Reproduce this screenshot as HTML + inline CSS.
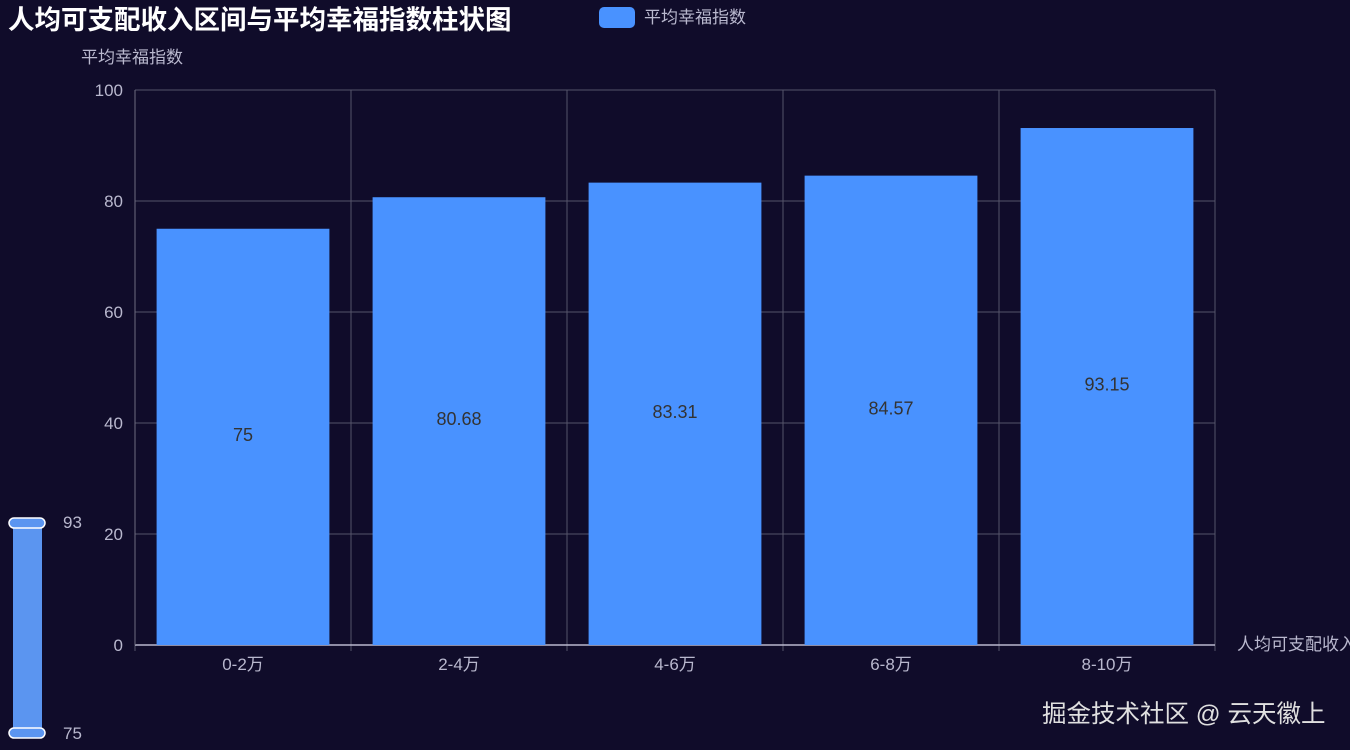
<!DOCTYPE html>
<html><head><meta charset="utf-8">
<style>
html,body{margin:0;padding:0;background:#100c2a;}
svg{display:block;font-family:"Liberation Sans","Noto Sans CJK SC",sans-serif;}
</style></head>
<body>
<svg id="chart" width="1350" height="750" xmlns="http://www.w3.org/2000/svg">
<rect width="1350" height="750" fill="#100c2a"/>
<text x="8" y="29" font-size="26.5" font-weight="bold" fill="#ffffff">人均可支配收入区间与平均幸福指数柱状图</text>
<g>
<rect x="599" y="7" width="36" height="21" rx="5" fill="#4992ff"/>
<text x="644" y="23" font-size="17" fill="#b9b8ce">平均幸福指数</text>
</g>
<text x="81" y="63" font-size="17" fill="#b9b8ce">平均幸福指数</text>
<text x="1237" y="650" font-size="17" fill="#b9b8ce">人均可支配收入区间</text>
<g id="grid"></g>
<g id="bars"></g>
<g>
<rect x="13" y="526" width="29" height="206" fill="#5b95f0"/>
<rect x="9" y="518" width="36" height="10" rx="5" fill="#5b95f0" stroke="#fff" stroke-width="1.5"/>
<rect x="9" y="728" width="36" height="10" rx="5" fill="#5b95f0" stroke="#fff" stroke-width="1.5"/>
<text x="63" y="528" font-size="17" fill="#b9b8ce">93</text>
<text x="63" y="739" font-size="17" fill="#b9b8ce">75</text>
</g>
<text x="1042" y="722" font-size="24.5" fill="#e0e0e0">掘金技术社区 @ 云天徽上</text>
</svg>
<script>
const categories = ["0-2万","2-4万","4-6万","6-8万","8-10万"];
const values = [75, 80.68, 83.31, 84.57, 93.15];
const yTicks = [0,20,40,60,80,100];
const NS="http://www.w3.org/2000/svg";
const x0=135,x1=1215,yBase=645,yTop=90,yMax=100;
const bw=(x1-x0)/categories.length;
function y(v){return yBase-(v/yMax)*(yBase-yTop);}
function mk(tag,attrs,parent){const e=document.createElementNS(NS,tag);for(const k in attrs)e.setAttribute(k,attrs[k]);parent.appendChild(e);return e;}
const grid=document.getElementById('grid'),bars=document.getElementById('bars');
yTicks.forEach(t=>{
  if(t>0){const l=mk('line',{x1:x0,x2:x1,y1:y(t),y2:y(t),stroke:'#55546a','stroke-width':1},grid);
  
  }
  const tx=mk('text',{x:x0-12,y:y(t)+6,'text-anchor':'end','font-size':17,fill:'#b9b8ce'},grid);
  tx.textContent=t;
  
  
});
for(let i=0;i<=categories.length;i++){
  const xx=x0+i*bw;
  const l=mk('line',{x1:xx,x2:xx,y1:yTop,y2:yBase+6,stroke:'#55546a','stroke-width':1},grid);
  
  
}
const ax=mk('line',{x1:x0,x2:x1,y1:yBase,y2:yBase,stroke:'#b9b8ce','stroke-width':1.5},grid);


const ay=mk('line',{x1:x0,x2:x0,y1:yTop,y2:yBase,stroke:'#6e6d80','stroke-width':1},grid);


categories.forEach((c,i)=>{
  const cx=x0+bw*(i+0.5);
  const bwid=bw*0.8;
  const r=mk('rect',{x:cx-bwid/2,y:y(values[i]),width:bwid,height:yBase-y(values[i]),fill:'#4992ff'},bars);
  
  
  const lb=mk('text',{x:cx,y:(y(values[i])+yBase)/2+4,'text-anchor':'middle','font-size':18,fill:'#333'},bars);
  lb.textContent=values[i];
  
  
  const xl=mk('text',{x:cx,y:yBase+25,'text-anchor':'middle','font-size':17,fill:'#b9b8ce'},bars);
  xl.textContent=c;
  
  
});
</script>
</body></html>
